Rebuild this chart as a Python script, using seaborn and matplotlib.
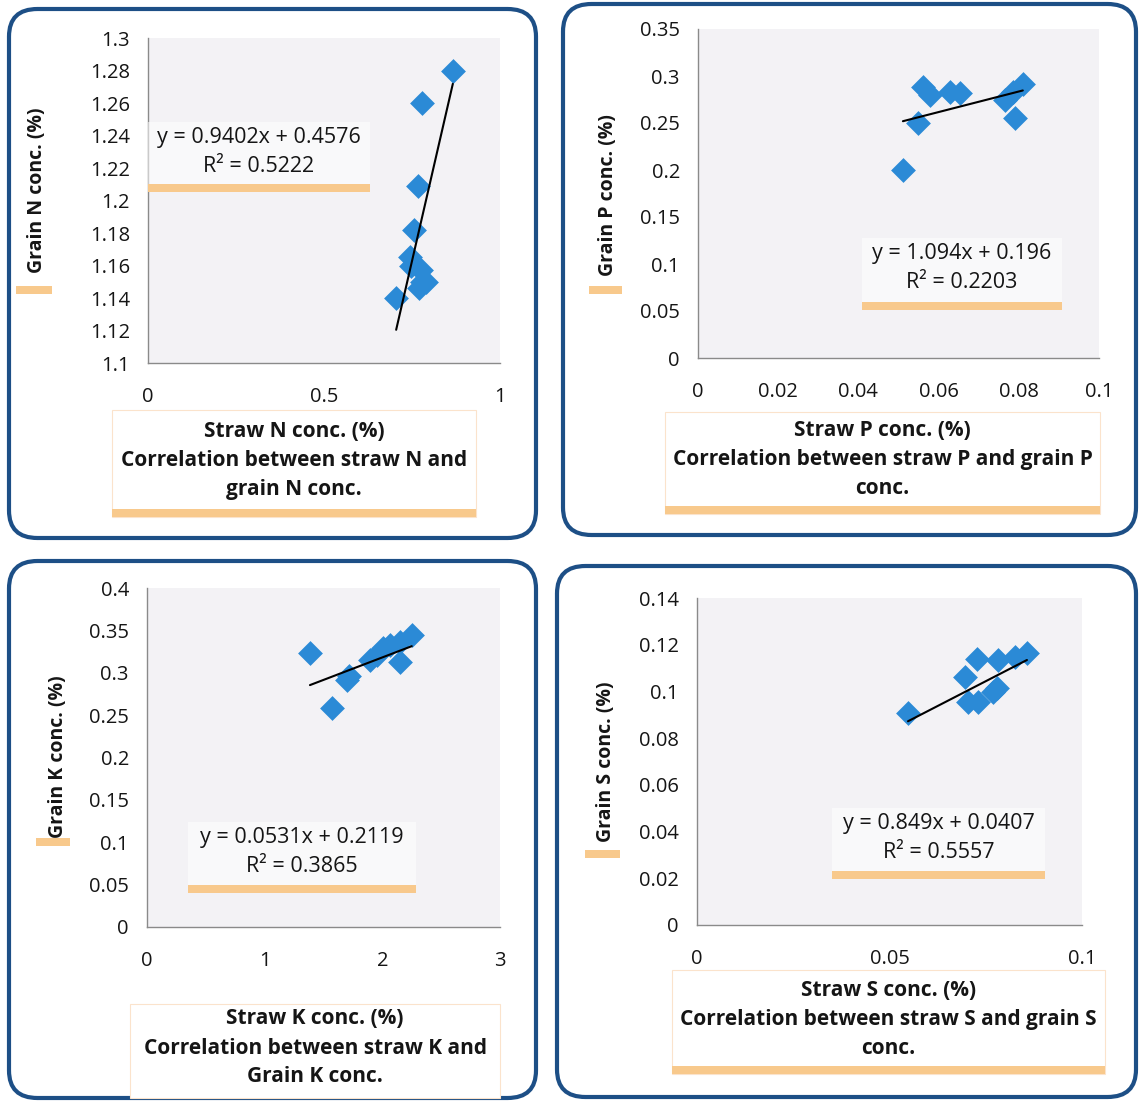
import numpy as np
import matplotlib.pyplot as plt
import seaborn as sns
from matplotlib.patches import FancyBboxPatch, Rectangle

# data
straw_n = [0.866, 0.778, 0.767, 0.756, 0.744, 0.748, 0.776, 0.778, 0.790, 0.770, 0.705]
grain_n = [1.280, 1.260, 1.209, 1.182, 1.165, 1.160, 1.157, 1.150, 1.150, 1.146, 1.140]

straw_p = [0.0561, 0.0579, 0.0628, 0.0653, 0.0549, 0.0511, 0.0810, 0.0786, 0.0766, 0.0791]
grain_p = [0.288, 0.280, 0.283, 0.282, 0.250, 0.200, 0.292, 0.283, 0.274, 0.255]

straw_k = [1.385, 1.572, 1.700, 1.720, 1.895, 1.954, 2.005, 2.065, 2.150, 2.250, 2.150]
grain_k = [0.323, 0.258, 0.291, 0.296, 0.315, 0.321, 0.329, 0.333, 0.336, 0.345, 0.313]

straw_s = [0.0548, 0.0696, 0.0727, 0.0704, 0.0730, 0.0769, 0.0779, 0.0782, 0.0826, 0.0857]
grain_s = [0.0908, 0.1060, 0.1140, 0.0955, 0.0955, 0.0997, 0.1015, 0.1134, 0.1147, 0.1164]

slopes = [0.9402, 1.094, 0.0531, 0.849]
intercepts = [0.4576, 0.196, 0.2119, 0.0407]
equations = ["y = 0.9402x + 0.4576", "y = 1.094x + 0.196", "y = 0.0531x + 0.2119", "y = 0.849x + 0.0407"]
r2_labels = ["R² = 0.5222", "R² = 0.2203", "R² = 0.3865", "R² = 0.5557"]

y_labels = ["Grain N conc. (%)", "Grain P conc. (%)", "Grain K conc. (%)", "Grain S conc. (%)"]
x_labels = [
    "Straw N conc. (%)\nCorrelation between straw N and\ngrain N conc.",
    "Straw P conc. (%)\nCorrelation between straw P and grain P\nconc.",
    "Straw K conc. (%)\nCorrelation between straw K and\nGrain K conc.",
    "Straw S conc. (%)\nCorrelation between straw S and grain S\nconc.",
]

x_ticks = [[0, 0.5, 1], [0, 0.02, 0.04, 0.06, 0.08, 0.1], [0, 1, 2, 3], [0, 0.05, 0.1]]
x_tick_labels = [["0", "0.5", "1"], ["0", "0.02", "0.04", "0.06", "0.08", "0.1"],
                 ["0", "1", "2", "3"], ["0", "0.05", "0.1"]]
y_ticks = [[1.1, 1.12, 1.14, 1.16, 1.18, 1.2, 1.22, 1.24, 1.26, 1.28, 1.3],
           [0, 0.05, 0.1, 0.15, 0.2, 0.25, 0.3, 0.35],
           [0, 0.05, 0.1, 0.15, 0.2, 0.25, 0.3, 0.35, 0.4],
           [0, 0.02, 0.04, 0.06, 0.08, 0.1, 0.12, 0.14]]
y_tick_labels = [["1.1", "1.12", "1.14", "1.16", "1.18", "1.2", "1.22", "1.24", "1.26", "1.28", "1.3"],
                 ["0", "0.05", "0.1", "0.15", "0.2", "0.25", "0.3", "0.35"],
                 ["0", "0.05", "0.1", "0.15", "0.2", "0.25", "0.3", "0.35", "0.4"],
                 ["0", "0.02", "0.04", "0.06", "0.08", "0.1", "0.12", "0.14"]]

W, H = 1140, 1101
BLUE = "#2b8ad6"
FRAME = "#1d4f86"
ORANGE = "#f8c98c"
TXT = "#151515"

sns.set_style("white")
plt.rcParams["font.family"] = ["Open Sans", "DejaVu Sans"]


def fx(px):
    return px / W


def fy(py):
    return 1 - py / H


# layout in pixels: frame box, plot area, equation box, y label, x label box
layout = [
    dict(frame=(9, 9, 536, 538), plot=(148, 38, 500, 363), eq=(148, 122, 370, 192),
         ylab=(37, 190), ybar=(16, 286, 52, 294), xbox=(112, 410, 476, 517)),
    dict(frame=(563, 4, 1136, 535), plot=(698, 29, 1099, 358), eq=(862, 238, 1062, 310),
         ylab=(608, 195), ybar=(589, 286, 622, 294), xbox=(665, 412, 1100, 514)),
    dict(frame=(9, 561, 536, 1098), plot=(147, 588, 500, 927), eq=(188, 822, 416, 893),
         ylab=(58, 757), ybar=(36, 838, 70, 846), xbox=(130, 1004, 500, 1098)),
    dict(frame=(557, 566, 1136, 1097), plot=(697, 598, 1082, 925), eq=(832, 808, 1045, 879),
         ylab=(606, 762), ybar=(585, 850, 620, 858), xbox=(672, 970, 1105, 1074)),
]

panels = [(straw_n, grain_n), (straw_p, grain_p), (straw_k, grain_k), (straw_s, grain_s)]

fig = plt.figure(figsize=(W / 100, H / 100), dpi=100)
fig.patch.set_facecolor("white")

for i, (xs, ys) in enumerate(panels):
    lay = layout[i]

    # rounded frame around each chart
    x0, y0, x1, y1 = lay["frame"]
    fig.patches.append(FancyBboxPatch((fx(x0), fy(y1)), fx(x1) - fx(x0), fy(y0) - fy(y1),
                                      boxstyle="round,pad=0,rounding_size=0.025",
                                      transform=fig.transFigure, facecolor="none",
                                      edgecolor=FRAME, linewidth=3, zorder=-1))

    px0, py0, px1, py1 = lay["plot"]
    ax = fig.add_axes([fx(px0), fy(py1), fx(px1) - fx(px0), fy(py0) - fy(py1)])
    ax.set_facecolor("#f3f2f5")

    sns.scatterplot(x=xs, y=ys, marker="D", s=160, color=BLUE, edgecolor=BLUE,
                    linewidth=0, ax=ax, zorder=3)

    # linear trendline across the data range
    xl = np.array([min(xs), max(xs)])
    sns.lineplot(x=xl, y=slopes[i] * xl + intercepts[i], color="black", linewidth=1.5,
                 ax=ax, zorder=4)

    ax.set_xlim(x_ticks[i][0], x_ticks[i][-1])
    ax.set_ylim(y_ticks[i][0], y_ticks[i][-1])
    ax.set_xticks(x_ticks[i])
    ax.set_xticklabels(x_tick_labels[i])
    ax.set_yticks(y_ticks[i])
    ax.set_yticklabels(y_tick_labels[i])
    ax.tick_params(axis="x", length=5, width=1, color="#8a8a8a", pad=12, labelsize=14.5,
                   labelcolor=TXT)
    ax.tick_params(axis="y", length=5, width=1, color="#8a8a8a", pad=8, labelsize=14.5,
                   labelcolor=TXT)
    ax.set_xlabel("")
    ax.set_ylabel("")
    for side in ["top", "right"]:
        ax.spines[side].set_visible(False)
    for side in ["left", "bottom"]:
        ax.spines[side].set_color("#8a8a8a")
        ax.spines[side].set_linewidth(1)

    # equation box with orange underline
    ex0, ey0, ex1, ey1 = lay["eq"]
    fig.patches.append(Rectangle((fx(ex0), fy(ey1)), fx(ex1) - fx(ex0), fy(ey0) - fy(ey1),
                                 transform=fig.transFigure, facecolor="white", alpha=0.55,
                                 edgecolor="none", zorder=2))
    fig.patches.append(Rectangle((fx(ex0), fy(ey1)), fx(ex1) - fx(ex0), 8 / H,
                                 transform=fig.transFigure, facecolor=ORANGE,
                                 edgecolor="none", zorder=2))
    cx = (ex0 + ex1) / 2
    fig.text(fx(cx), fy(ey0 + 15), equations[i], ha="center", va="center", fontsize=15.5,
             color=TXT)
    fig.text(fx(cx), fy(ey0 + 45), r2_labels[i], ha="center", va="center", fontsize=15.5,
             color=TXT)

    # y label with its orange tab
    lx, ly = lay["ylab"]
    fig.text(fx(lx), fy(ly), y_labels[i], rotation=90, ha="center", va="center",
             fontsize=14, fontweight="bold", color=TXT)
    bx0, by0, bx1, by1 = lay["ybar"]
    fig.patches.append(Rectangle((fx(bx0), fy(by1)), fx(bx1) - fx(bx0), fy(by0) - fy(by1),
                                 transform=fig.transFigure, facecolor=ORANGE,
                                 edgecolor="none", zorder=2))

    # x label / caption box
    cx0, cy0, cx1, cy1 = lay["xbox"]
    fig.patches.append(Rectangle((fx(cx0), fy(cy1)), fx(cx1) - fx(cx0), fy(cy0) - fy(cy1),
                                 transform=fig.transFigure, facecolor="white",
                                 edgecolor="#fbe3cc", linewidth=0.8, zorder=1))
    if i != 2:
        fig.patches.append(Rectangle((fx(cx0), fy(cy1)), fx(cx1) - fx(cx0), 8 / H,
                                     transform=fig.transFigure, facecolor=ORANGE,
                                     edgecolor="none", zorder=2))
    fig.text(fx((cx0 + cx1) / 2), fy((cy0 + cy1) / 2 - 3), x_labels[i], ha="center",
             va="center", fontsize=15, fontweight="bold", linespacing=1.5, color=TXT)

fig.savefig("out.png", dpi=100)
